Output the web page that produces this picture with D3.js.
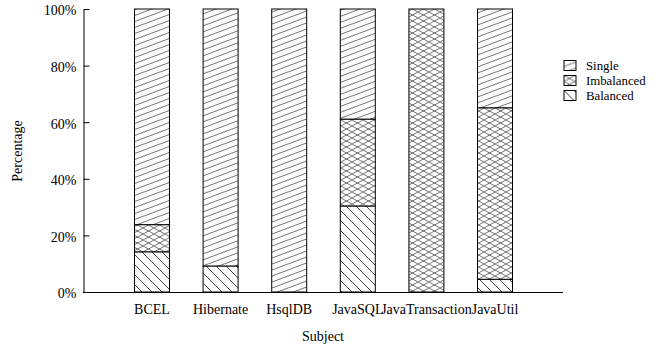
<!DOCTYPE html>
<html>
<head>
<meta charset="utf-8">
<script src="https://cdn.jsdelivr.net/npm/d3@7/dist/d3.min.js"></script>
<style>
  html, body { margin: 0; padding: 0; background: #fff; }
  svg { display: block; font-family: "Liberation Serif", "Times New Roman", serif; }
</style>
</head>
<body>
<svg id="chart" width="662" height="345"></svg>
<script>
const subjects = ["BCEL", "Hibernate", "HsqlDB", "JavaSQL", "JavaTransaction", "JavaUtil"];
const balanced = [14.2, 9.2, 0, 30.4, 0, 4.5];
const imbalanced = [9.6, 0, 0, 30.7, 100, 60.6];
const single = [76.2, 90.8, 100, 38.9, 0, 34.9];
const seriesNames = ["Balanced", "Imbalanced", "Single"];
const legendOrder = ["Single", "Imbalanced", "Balanced"];
const yTicks = [0, 20, 40, 60, 80, 100];

const svg = d3.select("#chart");
const defs = svg.append("defs");

// hatch patterns
const pSingle = defs.append("pattern").attr("id", "p-Single")
  .attr("patternUnits", "userSpaceOnUse").attr("width", 16).attr("height", 6);
pSingle.append("rect").attr("width", 16).attr("height", 6).attr("fill", "#fff");
pSingle.append("path").attr("d", "M-16,12 L32,-6 M0,12 L32,0 M-16,6 L16,-6")
  .attr("stroke", "#444").attr("stroke-width", 0.75).attr("fill", "none");

const pImb = defs.append("pattern").attr("id", "p-Imbalanced")
  .attr("patternUnits", "userSpaceOnUse").attr("width", 11).attr("height", 6);
pImb.append("rect").attr("width", 11).attr("height", 6).attr("fill", "#fff");
pImb.append("path").attr("d", "M-11,-6 L22,12 M-11,12 L22,-6")
  .attr("stroke", "#444").attr("stroke-width", 0.75).attr("fill", "none");

const pBal = defs.append("pattern").attr("id", "p-Balanced")
  .attr("patternUnits", "userSpaceOnUse").attr("width", 10).attr("height", 10);
pBal.append("rect").attr("width", 10).attr("height", 10).attr("fill", "#fff");
pBal.append("path").attr("d", "M-10,-10 L20,20 M-10,0 L10,20 M0,-10 L20,10")
  .attr("stroke", "#222").attr("stroke-width", 0.85).attr("fill", "none");

const x = d3.scaleBand().domain(subjects).range([134.5, 512.5]).paddingInner(0.49).paddingOuter(0);
const y = d3.scaleLinear().domain([0, 100]).range([292, 9]);

const rows = subjects.map((s, i) => ({ subject: s, Balanced: balanced[i], Imbalanced: imbalanced[i], Single: single[i] }));
const stacked = d3.stack().keys(seriesNames)(rows);

const g = svg.append("g");
stacked.forEach(layer => {
  g.selectAll(null).data(layer.filter(d => d[1] - d[0] > 0)).enter().append("rect")
    .attr("x", d => x(d.data.subject))
    .attr("width", x.bandwidth())
    .attr("y", d => y(d[1]))
    .attr("height", d => y(d[0]) - y(d[1]))
    .attr("fill", `url(#p-${layer.key})`)
    .attr("stroke", "#000")
    .attr("stroke-width", 1);
});

// Y axis
const yAxis = d3.axisLeft(y).tickValues(yTicks).tickFormat(d => d + "%")
  .tickSizeInner(-6).tickSizeOuter(0).tickPadding(7);
const ya = svg.append("g").attr("transform", "translate(83.5,0)").call(yAxis);
ya.selectAll("text").attr("font-size", 14).attr("font-family", "Liberation Serif").attr("fill", "#000").attr("dy", "0.42em");
ya.selectAll("line,path").attr("stroke", "#000");

// X axis line
svg.append("line").attr("x1", 83).attr("x2", 563).attr("y1", 292.5).attr("y2", 292.5)
  .attr("stroke", "#000").attr("stroke-width", 1);

const xAxis = d3.axisBottom(x).tickSize(0).tickPadding(12);
const xa = svg.append("g").attr("transform", "translate(0,292.5)").call(xAxis);
xa.select(".domain").remove();
xa.selectAll("text").attr("font-size", 14).attr("font-family", "Liberation Serif").attr("fill", "#000");

// axis titles
svg.append("text").attr("x", 323).attr("y", 341).attr("text-anchor", "middle")
  .attr("font-size", 14).text("Subject");
svg.append("text").attr("transform", "translate(22,151) rotate(-90)").attr("text-anchor", "middle")
  .attr("font-size", 14).text("Percentage");

// legend
const lg = svg.append("g").attr("transform", "translate(564,60.5)");
legendOrder.forEach((k, i) => {
  const row = lg.append("g").attr("transform", `translate(0,${i * 15})`);
  row.append("rect").attr("width", 12).attr("height", 10)
    .attr("fill", `url(#p-${k})`).attr("stroke", "#000").attr("stroke-width", 1);
  row.append("text").attr("x", 22).attr("y", 5).attr("dy", "0.35em")
    .attr("font-size", 12.8).text(k);
});
</script>
</body>
</html>
